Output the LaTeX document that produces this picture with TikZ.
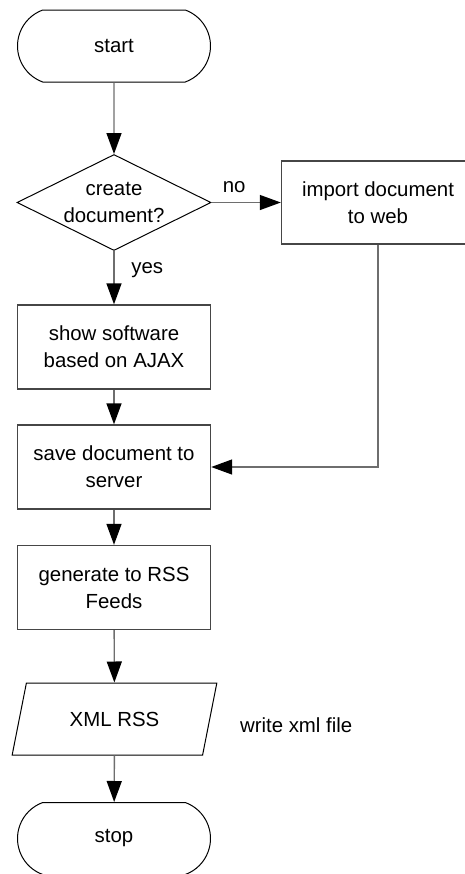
\documentclass[tikz,border=0pt]{standalone}
\usepackage{fontspec}
\setmainfont{Liberation Sans}
\usepackage{tikz}
\usetikzlibrary{arrows.meta,shapes.geometric,shapes.misc,positioning}
\definecolor{flowline}{RGB}{110,110,110}
\definecolor{flowedge}{RGB}{70,70,70}

\begin{document}
\begin{tikzpicture}[
  x=0.5pt,y=-0.5pt,
  every node/.style={font=\fontsize{10.2}{13.5}\selectfont},
  terminal/.style={rounded rectangle,rounded rectangle arc length=140,draw=black,line width=0.5pt,
    minimum width=96.5pt,minimum height=36pt,inner sep=0pt},
  decision/.style={diamond,aspect=2,draw=black,line width=0.5pt,
    minimum width=97pt,minimum height=48pt,inner sep=0pt,align=center},
  process/.style={rectangle,draw=flowedge,line width=0.7pt,
    minimum width=96.5pt,minimum height=42pt,inner sep=0pt,align=center},
  iobox/.style={trapezium,trapezium left angle=63.4,trapezium right angle=116.6,
    trapezium stretches=true,draw=black,line width=0.5pt,
    minimum width=102.5pt,minimum height=36pt,inner sep=0pt},
  arr/.style={-{Triangle[length=10.5pt,width=7.5pt,color=black]},draw=flowline,line width=0.7pt},
]

\clip (0,0) rectangle (465,874);

%% ── Main column ──────────────────────────────────────────────────────────
\node[terminal] (start)  at (114,46)    {start};
\node[decision] (create) at (114,202.5) {create\\document?};
\node[process]  (show)   at (114,347)   {show software\\based on AJAX};
\node[process]  (save)   at (114,467)   {save document to\\server};
\node[process]  (rss)    at (114,587.5) {generate to RSS\\Feeds};
\node[iobox]    (xml)    at (114.5,719) {XML RSS};
\node[terminal] (stop)   at (114,838.5) {stop};

%% Side branch (runs off the right edge)
\node[process,minimum height=41.5pt] (import) at (378,202.5) {import document\\to web};

%% Annotation beside the output
\node[anchor=west] (xmlnote) at (233,725) {write xml file};

%% ── Connectors ───────────────────────────────────────────────────────────
\draw[arr] (start) -- (create);
\draw[arr] (create) -- (show) node[pos=0.35,right=5pt] (yes) {yes};
\draw[arr] (create) -- (import) node[midway,above=1pt,xshift=-6pt] (no) {no};
\draw[arr] (show) -- (save);
\draw[arr] (save) -- (rss);
\draw[arr] (rss) -- (xml);
\draw[arr] (xml) -- (stop);

%% Import rejoins the main column
\draw[arr] (import.south) |- (save.east);

\end{tikzpicture}
\end{document}
